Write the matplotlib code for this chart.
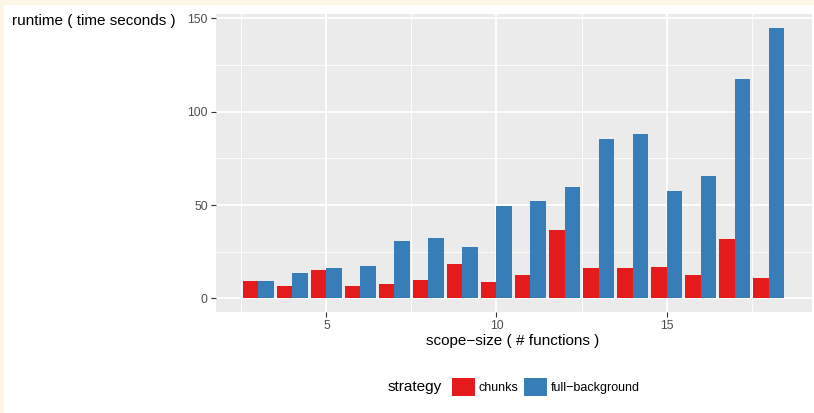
import numpy as np
import matplotlib.pyplot as plt
from matplotlib.patches import Rectangle, Patch

plt.rcParams['font.family'] = ['Liberation Sans', 'DejaVu Sans']

# data
scope_size = [3, 4, 5, 6, 7, 8, 9, 10, 11, 12, 13, 14, 15, 16, 17, 18]
chunks = [9.5, 6.4, 15.4, 6.9, 8.0, 10.1, 18.6, 9.0, 12.8, 36.8, 16.5, 16.5, 17.0, 12.8, 32.0, 11.2]
full_background = [9.5, 13.4, 16.5, 17.6, 30.9, 32.4, 27.7, 49.6, 52.3, 59.8, 85.4, 88.1, 57.6, 65.7, 117.5, 145.0]
strategies = ['chunks', 'full\u2212background']
colors = ['#E41A1C', '#377EB8']

W, H = 814, 413
fig = plt.figure(figsize=(W / 100, H / 100), dpi=100)
fig.patch.set_facecolor('#FDF6E6')
# white page area (image is cropped with a cream strip on top and left)
fig.patches.append(Rectangle((4 / W, 0), 1, (H - 5) / H, transform=fig.transFigure,
                             facecolor='white', edgecolor='none', zorder=-1))

# panel position in pixels
left, right, top, bottom = 216, 812, 14, 312
ax = fig.add_axes([left / W, 1 - bottom / H, (right - left) / W, (bottom - top) / H])
ax.set_zorder(1)
ax.set_facecolor('#EBEBEB')
for s in ax.spines.values():
    s.set_visible(False)

x = np.array(scope_size)
bw = 0.45
ax.bar(x - bw / 2, chunks, width=bw, color=colors[0], zorder=3)
ax.bar(x + bw / 2, full_background, width=bw, color=colors[1], zorder=3)

# ggplot-like continuous scale expansion
lo, hi = x.min() - 0.45, x.max() + 0.45
pad = (hi - lo) * 0.05
ax.set_xlim(lo - pad, hi + pad + 0.03)
ymax = max(full_background)
ax.set_ylim(-ymax * 0.05, ymax * 1.05)

ax.set_xticks([5, 10, 15])
ax.set_xticks([2.5, 7.5, 12.5, 17.5], minor=True)
ax.set_yticks([0, 50, 100, 150])
ax.set_yticks([25, 75, 125], minor=True)
ax.grid(which='major', color='white', lw=1.3, zorder=1)
ax.grid(which='minor', color='white', lw=0.6, zorder=1)
ax.tick_params(which='major', direction='out', length=3.5, width=0.8, color='#333333',
               labelsize=8.8, labelcolor='#4D4D4D', pad=2.5)
ax.tick_params(which='minor', length=0)

fig.text(12 / W, 1 - 21 / H, 'runtime ( time seconds )', ha='left', va='center', fontsize=11)
fig.text((left + right - 3) / 2 / W, 1 - 341 / H, 'scope\u2212size ( # functions )',
         ha='center', va='center', fontsize=11)

# legend at the bottom
fig.text(388 / W, 1 - 387 / H, 'strategy', ha='left', va='center', fontsize=11)
handles = [Patch(facecolor=c, edgecolor='none') for c in colors]
fig.legend(handles, strategies, ncol=2, loc='center left', bbox_to_anchor=(452 / W, 1 - 387 / H),
           frameon=False, fontsize=9, handlelength=1.85, handleheight=1.85,
           handletextpad=0.3, columnspacing=0.4, borderpad=0, borderaxespad=0)

plt.savefig('out.png', dpi=100, facecolor=fig.get_facecolor())
